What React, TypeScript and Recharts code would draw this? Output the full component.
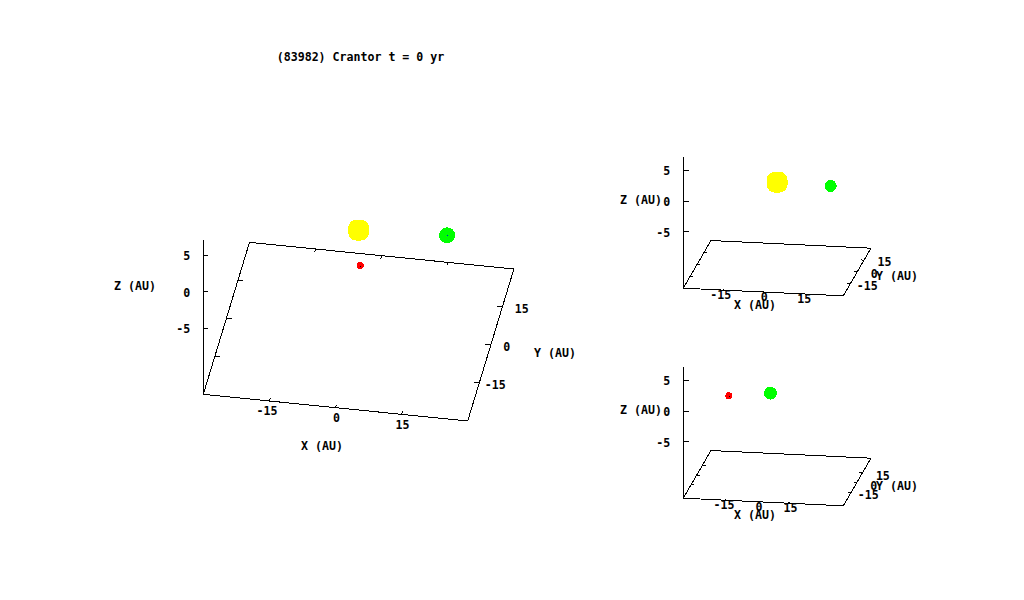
import { Scatter, ScatterChart, XAxis, YAxis } from "recharts";

const TITLE = "(83982) Crantor t = 0 yr";
const FONT = "'DejaVu Sans Mono', monospace";

// body positions in AU
const helioX = [0, 19.8, 3.4];
const helioY = [0, 1.6, -17.3];
const helioZ = [-0.15, -0.2, 1.2];
const innerX = [0, 19.8];
const innerY = [0, 1.6];
const innerZ = [-0.2, -0.6];
const uranusX = [-16.4, 0];
const uranusY = [-18.9, 0];
const uranusZ = [1.0, -0.3];

const xTicks = [-15, 0, 15];
const yTicks = [-15, 0, 15];
const zTicks = [-5, 0, 5];

const SUN = "#ffff00";
const URANUS = "#00ff00";
const CRANTOR = "#ff0000";

const panels = [
  {
    rect: { left: 100, top: 40, width: 490, height: 420 },
    axisX: 203.3, z0Py: 291.7, zScale: 7.33, zBase: -14, zTop: 7,
    xRange: [-30, 30], yRange: [-30, 30],
    xVec: [264.4 / 60, 26.7 / 60], yVec: [46.2 / 60, -152 / 60],
    tickLen: 1.2, zTickLen: 5, zLabelGap: 13,
    xLabel: [1, 10.5], yLabel: [16, 1.5],
    titles: [["X (AU)", 322, 446], ["Y (AU)", 555, 353], ["Z (AU)", 135, 286]],
    bodies: [helioX, helioY, helioZ], colors: [SUN, URANUS, CRANTOR], sizes: [21, 16, 7],
    centres: ["", "#0000ff", "#000000"],
  },
  {
    rect: { left: 610, top: 150, width: 320, height: 170 },
    axisX: 683.3, z0Py: 201, zScale: 6.14, zBase: -14.2, zTop: 7.1,
    xRange: [-30, 30], yRange: [-30, 30],
    xVec: [160 / 60, 7.67 / 60], yVec: [27.67 / 60, -47.67 / 60],
    tickLen: 1.2, zTickLen: 6, zLabelGap: 13,
    xLabel: [1, 5], yLabel: [17, 2],
    titles: [["X (AU)", 755, 304.7], ["Y (AU)", 897, 276], ["Z (AU)", 641, 200]],
    bodies: [innerX, innerY, innerZ], colors: [SUN, URANUS], sizes: [21, 12],
    centres: ["", ""],
  },
  {
    rect: { left: 610, top: 360, width: 320, height: 170 },
    axisX: 683.3, z0Py: 411, zScale: 6.14, zBase: -14.2, zTop: 7.1,
    xRange: [-35, 41], yRange: [-36, 38],
    xVec: [160 / 76, 7.67 / 76], yVec: [27.67 / 74, -47.67 / 74],
    tickLen: 1.5, zTickLen: 6, zLabelGap: 13,
    xLabel: [2, 5], yLabel: [17, 3],
    titles: [["X (AU)", 755, 514.7], ["Y (AU)", 897, 486], ["Z (AU)", 641, 410]],
    bodies: [uranusX, uranusY, uranusZ], colors: [CRANTOR, URANUS], sizes: [7, 13],
    centres: ["#000000", ""],
  },
];

type Panel = (typeof panels)[number];

function makeProject(p: Panel) {
  return (x: number, y: number, z: number) => {
    const dx = x - p.xRange[0];
    const dy = y - p.yRange[0];
    const down = dx * p.xVec[1] + dy * p.yVec[1];
    return { h: dx * p.xVec[0] + dy * p.yVec[0], v: z - down / p.zScale };
  };
}

const labelStyle = { fontFamily: FONT, fontSize: 11.6, fontWeight: 700, fill: "#000" };

function Plot({ panel, title }: { panel: Panel; title?: string }) {
  const { rect, xRange, yRange, zBase, zTop, tickLen } = panel;
  const [x0, x1] = xRange;
  const [y0, y1] = yRange;
  const project = makeProject(panel);
  const axisWidth = panel.axisX - rect.left;

  const segments = [
    [project(x0, y0, zBase), project(x1, y0, zBase), project(x1, y1, zBase), project(x0, y1, zBase), project(x0, y0, zBase)],
    [project(x0, y0, zBase), project(x0, y0, zTop)],
  ];
  xTicks.forEach((t) => {
    segments.push([project(t, y0, zBase), project(t, y0 + tickLen, zBase)]);
    segments.push([project(t, y1, zBase), project(t, y1 - tickLen, zBase)]);
  });
  yTicks.forEach((t) => {
    segments.push([project(x0, t, zBase), project(x0 + tickLen, t, zBase)]);
    segments.push([project(x1, t, zBase), project(x1 - tickLen, t, zBase)]);
  });

  const xLabels = xTicks.map((t) => ({ ...project(t, y0, zBase), label: String(t) }));
  const yLabels = yTicks.map((t) => ({ ...project(x1, t, zBase), label: String(t) }));
  const [bx, by, bz] = panel.bodies;

  return (
    <div style={{ position: "absolute", left: rect.left, top: rect.top }}>
      <ScatterChart width={rect.width} height={rect.height} margin={{ top: 0, right: 0, bottom: 0, left: 0 }}>
        <XAxis type="number" dataKey="h" hide domain={[0, rect.width - axisWidth]} />
        <YAxis
          type="number"
          dataKey="v"
          width={axisWidth}
          domain={[(panel.z0Py - rect.top - rect.height) / panel.zScale, (panel.z0Py - rect.top) / panel.zScale]}
          ticks={zTicks}
          interval={0}
          axisLine={false}
          tickLine={false}
          tickSize={0}
          tickMargin={0}
          tick={(t: any) => (
            <g>
              <line x1={t.x} x2={t.x + panel.zTickLen} y1={t.y} y2={t.y} stroke="#000" />
              <text {...labelStyle} x={t.x - panel.zLabelGap} y={t.y + 1} textAnchor="end" dominantBaseline="central">
                {t.payload.value}
              </text>
            </g>
          )}
        />
        {segments.map((s, i) => (
          <Scatter key={i} data={s} line={{ stroke: "#000", strokeWidth: 1 }} shape={() => <g />} isAnimationActive={false} />
        ))}
        <Scatter
          data={xLabels}
          isAnimationActive={false}
          shape={(d: any) => (
            <text
              {...labelStyle}
              x={d.cx + panel.xLabel[0] - (d.payload.label.length === 3 ? 3.5 : 0)}
              y={d.cy + panel.xLabel[1]}
              textAnchor="middle"
              dominantBaseline="central"
            >
              {d.payload.label}
            </text>
          )}
        />
        <Scatter
          data={yLabels}
          isAnimationActive={false}
          shape={(d: any) => (
            <text
              {...labelStyle}
              x={d.cx + panel.yLabel[0] + (d.payload.label.length === 2 ? 3.5 : 0)}
              y={d.cy + panel.yLabel[1]}
              textAnchor="middle"
              dominantBaseline="central"
            >
              {d.payload.label}
            </text>
          )}
        />
        {bx.map((x, i) => {
          const size = panel.sizes[i];
          const color = panel.colors[i];
          const centre = panel.centres[i];
          return (
            <Scatter
              key={color}
              data={[project(x, by[i], bz[i])]}
              isAnimationActive={false}
              shape={(d: any) => (
                <g>
                  <rect
                    x={d.cx - size / 2}
                    y={d.cy - size / 2}
                    width={size}
                    height={size}
                    rx={color === SUN ? size * 0.4 : size / 2}
                    fill={color}
                  />
                  {centre && <rect x={Math.round(d.cx) - 0.5} y={Math.round(d.cy) - 0.5} width={1} height={1} fill={centre} />}
                </g>
              )}
            />
          );
        })}
        {panel.titles.map(([text, x, y]) => (
          <text
            key={text as string}
            {...labelStyle}
            x={(x as number) - rect.left}
            y={(y as number) - rect.top}
            textAnchor="middle"
            dominantBaseline="central"
          >
            {text}
          </text>
        ))}
        {title && (
          <text {...labelStyle} x={360.5 - rect.left} y={57 - rect.top} textAnchor="middle" dominantBaseline="central">
            {title}
          </text>
        )}
      </ScatterChart>
    </div>
  );
}

export default function App() {
  return (
    <div
      style={{
        position: "absolute",
        left: 0,
        top: 0,
        width: 1024,
        height: 600,
        background: "#fff",
        overflow: "hidden",
        shapeRendering: "crispEdges",
      }}
    >
      <Plot panel={panels[0]} title={TITLE} />
      <Plot panel={panels[1]} />
      <Plot panel={panels[2]} />
    </div>
  );
}
